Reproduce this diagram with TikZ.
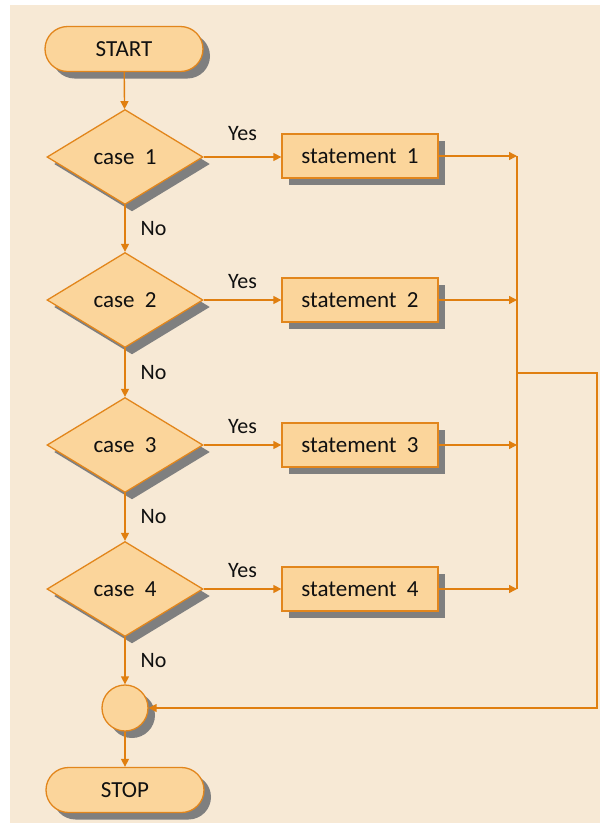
\documentclass[tikz,border=0pt]{standalone}
\usepackage{fontspec}
\setmainfont{Carlito}
\usetikzlibrary{shapes.geometric,shapes.misc,arrows.meta,shadows}
\definecolor{pagebg}{HTML}{F7E9D5}
\definecolor{boxfill}{HTML}{FBD59B}
\definecolor{edge}{HTML}{E2861C}
\definecolor{flow}{HTML}{E07F10}
\definecolor{shade}{HTML}{7F7F7F}
\definecolor{ink}{HTML}{101010}
\tikzset{
  shadowed/.style={drop shadow={shadow xshift=7pt,shadow yshift=-7pt,fill=shade,opacity=1}},
  base/.style={draw=edge,line width=1.3pt,fill=boxfill,text=ink,font=\fontsize{23}{26}\selectfont,inner sep=0pt,shadowed},
  terminal/.style={base,rounded rectangle,minimum width=158pt,minimum height=45pt},
  decision/.style={base,diamond,minimum width=156pt,minimum height=95pt},
  process/.style={base,rectangle,minimum width=156pt,minimum height=44pt},
  junction/.style={base,circle,minimum size=46pt},
  flowline/.style={draw=flow,line width=1.4pt},
  arrow/.style={flowline,-{Triangle[width=8pt,length=8pt]}},
  lbl/.style={text=ink,font=\fontsize{22}{24}\selectfont,inner sep=0pt},
  nolbl/.style={lbl,anchor=west,xshift=15pt},
  yeslbl/.style={lbl,above=#1},
  yeslbl/.default=11pt
}
\begin{document}
\begin{tikzpicture}[x=1pt,y=-1pt]
  \useasboundingbox (0,0) rectangle (600,823);
  \fill[pagebg] (10,5) rectangle (600,823);

  \node[terminal] (start) at (124,49) {START};
  \node[decision] (c1) at (125,157) {case\hspace{0.45em}1};
  \node[decision] (c2) at (125,300) {case\hspace{0.45em}2};
  \node[decision] (c3) at (125,445) {case\hspace{0.45em}3};
  \node[decision] (c4) at (125,589) {case\hspace{0.45em}4};
  \node[process] (s1) at (360,156) {statement\hspace{0.45em}1};
  \node[process] (s2) at (360,300) {statement\hspace{0.45em}2};
  \node[process] (s3) at (360,445) {statement\hspace{0.45em}3};
  \node[process] (s4) at (360,589) {statement\hspace{0.45em}4};
  \node[junction] (join) at (125,708) {};
  \node[terminal] (stop) at (125,790) {STOP};

  % collecting bus and return path
  \coordinate (m1) at (517,156);
  \coordinate (m2) at (517,300);
  \coordinate (m3) at (517,445);
  \coordinate (m4) at (517,589);
  \coordinate (tap) at (517,373);
  \coordinate (r1) at (597,373);
  \coordinate (r2) at (597,708);

  \draw[arrow] (start) -- (c1);
  \draw[arrow] (c1) -- node[nolbl] {No} (c2);
  \draw[arrow] (c2) -- node[nolbl] {No} (c3);
  \draw[arrow] (c3) -- node[nolbl] {No} (c4);
  \draw[arrow] (c4) -- node[nolbl] {No} (join);
  \draw[arrow] (join) -- (stop);

  \draw[arrow] (c1.east) -- node[yeslbl=16pt] {Yes} (s1.west |- c1.east);
  \draw[arrow] (c2.east) -- node[yeslbl] {Yes} (s2.west |- c2.east);
  \draw[arrow] (c3.east) -- node[yeslbl] {Yes} (s3.west |- c3.east);
  \draw[arrow] (c4.east) -- node[yeslbl] {Yes} (s4.west |- c4.east);

  \draw[arrow] (s1.east) -- (m1);
  \draw[arrow] (s2.east) -- (m2);
  \draw[arrow] (s3.east) -- (m3);
  \draw[arrow] (s4.east) -- (m4);
  \draw[flowline] (m1) -- (m4);
  \draw[arrow] (tap) -- (r1) -- (r2) -- (join.east);
\end{tikzpicture}
\end{document}
